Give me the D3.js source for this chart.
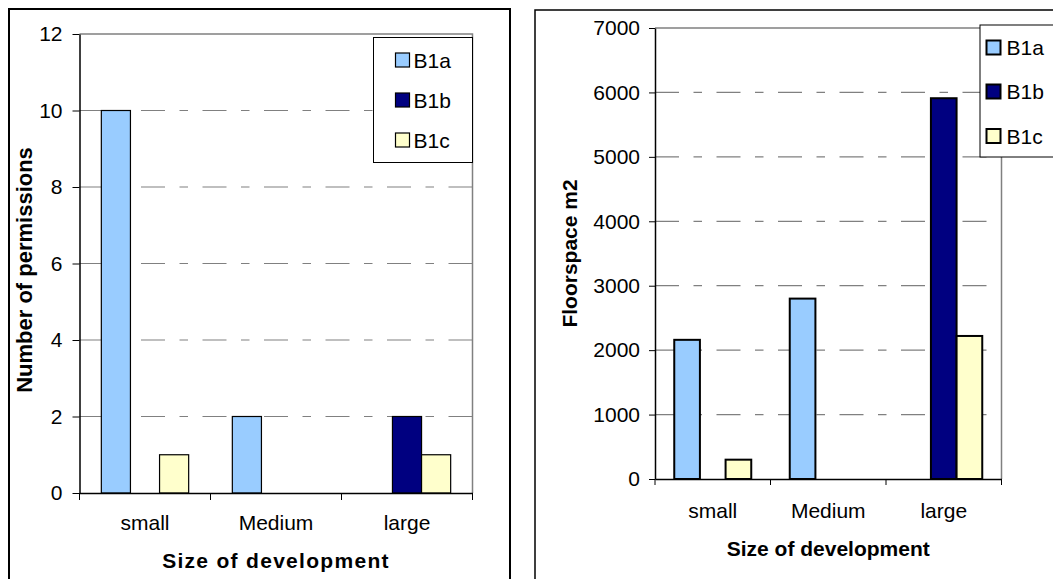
<!DOCTYPE html>
<html>
<head>
<meta charset="utf-8">
<script src="https://cdn.jsdelivr.net/npm/d3@7"></script>
<style>
  html, body { margin: 0; padding: 0; background: #fff; }
  svg { display: block; }
  text { font-family: "Liberation Sans", Arial, sans-serif; fill: #000; }
</style>
</head>
<body>
<svg id="chart" width="1053" height="579"></svg>
<script>
// Shared categories and series
const categories = ["small", "Medium", "large"];
const seriesNames = ["B1a", "B1b", "B1c"];
const seriesColors = ["#99CCFF", "#000080", "#FFFFCC"];

// Number of permissions per size of development
const permissionsB1a = [10, 2, 0];
const permissionsB1b = [0, 0, 2];
const permissionsB1c = [1, 0, 1];
const permissionTicks = [0, 2, 4, 6, 8, 10, 12];

// Floorspace (m2) per size of development
const floorB1a = [2160, 2800, 0];
const floorB1b = [0, 0, 5910];
const floorB1c = [300, 0, 2220];
const floorTicks = [0, 1000, 2000, 3000, 4000, 5000, 6000, 7000];

const svg = d3.select("#chart");

function drawPanel(cfg) {
  const g = svg.append("g");
  const { left, right, top, bottom } = cfg.plot;

  // outer frame of the panel
  g.append("rect")
    .attr("x", cfg.frame.x).attr("y", cfg.frame.y)
    .attr("width", cfg.frame.w).attr("height", cfg.frame.h)
    .attr("fill", "#fff").attr("stroke", "#000")
    .attr("stroke-width", cfg.frame.sw);

  const y = d3.scaleLinear().domain([0, d3.max(cfg.ticks)]).range([bottom, top]);
  const x = d3.scaleBand().domain(categories).range([left, right])
    .paddingInner(0).paddingOuter(0);
  const xs = d3.scaleBand().domain(seriesNames).range([0, x.bandwidth()])
    .paddingInner(0).paddingOuter(0.75);

  // dashed gridlines
  g.append("g").selectAll("line")
    .data(cfg.ticks.filter(t => t > 0 && t < d3.max(cfg.ticks)))
    .join("line")
    .attr("x1", left).attr("x2", right)
    .attr("y1", d => y(d)).attr("y2", d => y(d))
    .attr("stroke", "#808080").attr("stroke-width", 1.2)
    .attr("stroke-dasharray", "24,14.5,8.5,14.5");

  // plot area top and right border
  g.append("path")
    .attr("d", `M${left},${top}H${right}V${bottom}`)
    .attr("fill", "none").attr("stroke", "#808080").attr("stroke-width", 1.5);

  // bars
  const rows = [];
  categories.forEach((c, i) => {
    cfg.series.forEach((s, j) => {
      if (s[i] > 0) rows.push({ cat: c, name: seriesNames[j], color: seriesColors[j], value: s[i] });
    });
  });
  g.append("g").selectAll("rect")
    .data(rows)
    .join("rect")
    .attr("x", d => x(d.cat) + xs(d.name))
    .attr("y", d => y(d.value))
    .attr("width", xs.bandwidth())
    .attr("height", d => bottom - y(d.value))
    .attr("fill", d => d.color)
    .attr("stroke", "#000").attr("stroke-width", cfg.barStroke);

  // y axis
  const yAxis = g.append("g")
    .attr("transform", `translate(${left},0)`)
    .call(d3.axisLeft(y).tickValues(cfg.ticks).tickFormat(d3.format("d"))
      .tickSize(cfg.tickLen).tickPadding(cfg.tickPad).tickSizeOuter(0));
  yAxis.select(".domain").attr("stroke", "#000").attr("stroke-width", 1.5);
  yAxis.selectAll(".tick line").attr("stroke", "#000");
  yAxis.selectAll("text").attr("font-size", cfg.font).attr("fill", "#000")
    .attr("font-family", "Liberation Sans, Arial, sans-serif");

  // x axis: category labels, ticks at category boundaries
  const xAxis = g.append("g")
    .attr("transform", `translate(0,${bottom})`)
    .call(d3.axisBottom(x).tickSize(0).tickPadding(cfg.catPad).tickSizeOuter(0));
  xAxis.select(".domain").attr("stroke", "#000").attr("stroke-width", 1.5);
  xAxis.selectAll("text").attr("font-size", cfg.font).attr("fill", "#000")
    .attr("font-family", "Liberation Sans, Arial, sans-serif");
  const bounds = categories.map(c => x(c)).concat([right]);
  g.append("g").selectAll("line")
    .data(bounds)
    .join("line")
    .attr("x1", d => d).attr("x2", d => d)
    .attr("y1", bottom).attr("y2", bottom + cfg.tickLen)
    .attr("stroke", "#000");

  // axis titles
  g.append("text")
    .attr("x", (left + right) / 2).attr("y", cfg.xTitleY)
    .attr("text-anchor", "middle")
    .attr("font-weight", "bold").attr("font-size", cfg.font)
    .attr("letter-spacing", cfg.xTitleSpacing)
    .text("Size of development");
  g.append("text")
    .attr("transform", `translate(${cfg.yTitleX},${cfg.yTitleCy}) rotate(-90)`)
    .attr("text-anchor", "middle")
    .attr("font-weight", "bold").attr("font-size", cfg.yTitleFont)
    .text(cfg.yTitle);

  // legend
  const L = cfg.legend;
  g.append("rect")
    .attr("x", L.x).attr("y", L.y).attr("width", L.w).attr("height", L.h)
    .attr("fill", "#fff").attr("stroke", "#000").attr("stroke-width", 1);
  const items = g.append("g").selectAll("g")
    .data(seriesNames)
    .join("g")
    .attr("transform", (d, i) => `translate(${L.sx},${L.rows[i]})`);
  items.append("rect")
    .attr("x", 0).attr("y", -7).attr("width", 14).attr("height", 14)
    .attr("fill", (d, i) => seriesColors[i])
    .attr("stroke", "#000").attr("stroke-width", L.sw);
  items.append("text")
    .attr("x", L.tx).attr("y", 0).attr("dy", "0.36em")
    .attr("font-size", cfg.font)
    .text(d => d);
}

drawPanel({
  frame: { x: 9, y: 9, w: 501, h: 600, sw: 2 },
  plot: { left: 79.5, right: 472.5, top: 34, bottom: 493 },
  ticks: permissionTicks,
  series: [permissionsB1a, permissionsB1b, permissionsB1c],
  barStroke: 1.2,
  tickLen: 7, tickPad: 10, catPad: 22,
  font: 21,
  xTitleY: 567.5, xTitleSpacing: 1.3,
  yTitle: "Number of permissions", yTitleX: 31.5, yTitleCy: 270, yTitleFont: 22,
  legend: { x: 373.5, y: 37.5, w: 99, h: 125, sx: 395.5, tx: 18, rows: [60, 100, 140], sw: 1.2 }
});

drawPanel({
  frame: { x: 535, y: 10, w: 540, h: 600, sw: 1.5 },
  plot: { left: 655, right: 1001.5, top: 28, bottom: 479 },
  ticks: floorTicks,
  series: [floorB1a, floorB1b, floorB1c],
  barStroke: 2,
  tickLen: 6, tickPad: 9, catPad: 24,
  font: 21,
  xTitleY: 555.5, xTitleSpacing: 0,
  yTitle: "Floorspace m2", yTitleX: 577, yTitleCy: 253.5, yTitleFont: 21,
  legend: { x: 980, y: 25, w: 100, h: 132, sx: 986.5, tx: 20, rows: [47.5, 91.5, 136], sw: 2 }
});
</script>
</body>
</html>
